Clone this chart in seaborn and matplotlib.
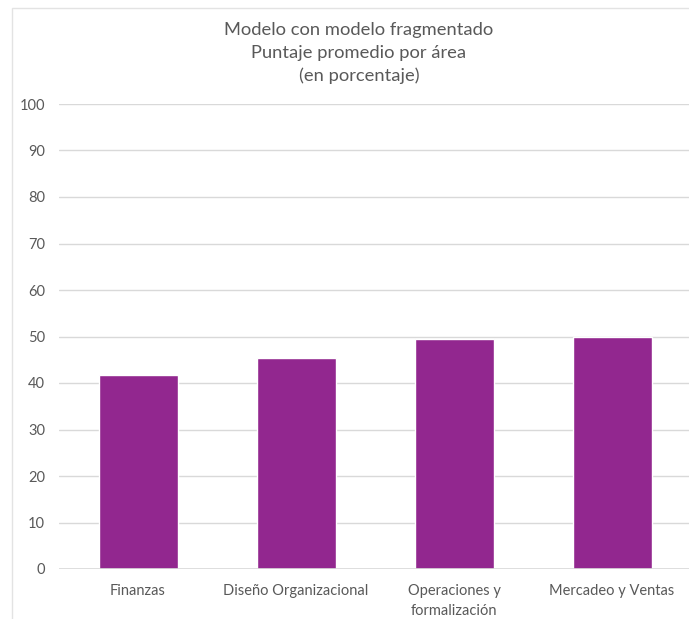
import matplotlib
matplotlib.use("Agg")
import matplotlib.pyplot as plt
import seaborn as sns
import pandas as pd
from matplotlib.patches import Rectangle

# Average score per area (percent)
categories = ["Finanzas", "Diseño Organizacional", "Operaciones y\nformalización", "Mercadeo y Ventas"]
values = [41.8, 45.4, 49.4, 49.9]
y_ticks = [0, 10, 20, 30, 40, 50, 60, 70, 80, 90, 100]
title_lines = ["Modelo con modelo fragmentado", "Puntaje promedio por área", "(en porcentaje)"]

bar_color = "#92278F"
text_color = "#595959"
grid_color = "#D9D9D9"

sns.set_theme(style="white")
plt.rcParams["font.family"] = ["Lato", "DejaVu Sans"]

W, H = 689, 619
fig = plt.figure(figsize=(W / 100, H / 100), dpi=100)
fig.patch.set_facecolor("white")

# chart frame (left and top edges visible)
frame = Rectangle((12 / W, -0.1), 1.2, (H - 8) / H + 0.1, transform=fig.transFigure,
                  fill=False, edgecolor="#E3E3E3", linewidth=1.0)
fig.patches.append(frame)

left_px, right_px = 59, 691
bottom_px, top_px = 569, 104
ax = fig.add_axes([left_px / W, (H - bottom_px) / H,
                   (right_px - left_px) / W, (bottom_px - top_px) / H])

df = pd.DataFrame({"area": categories, "valor": values})
sns.barplot(data=df, x="area", y="valor", order=categories, color=bar_color,
            saturation=1, width=0.5, ax=ax, zorder=3)

ax.set_xlim(-0.5, len(categories) - 0.5)
ax.set_ylim(0, 100)
ax.set_yticks(y_ticks)
ax.yaxis.grid(True, color=grid_color, linewidth=1.0, zorder=0)
ax.set_axisbelow(True)
for s in ax.spines.values():
    s.set_visible(False)
ax.axhline(0, color=grid_color, linewidth=1.2, zorder=4)
ax.set_xlabel("")
ax.set_ylabel("")
ax.tick_params(axis="both", length=0, labelcolor=text_color, labelsize=10.5)
ax.tick_params(axis="y", pad=10)
ax.tick_params(axis="x", pad=11)
for lbl in ax.get_xticklabels():
    lbl.set_linespacing(1.55)

for i, line in enumerate(title_lines):
    fig.text(359 / W, 1 - (30 + 23 * i) / H, line, ha="center", va="center",
             fontsize=13.2, color=text_color)

fig.savefig("out.png", dpi=100, facecolor="white")
